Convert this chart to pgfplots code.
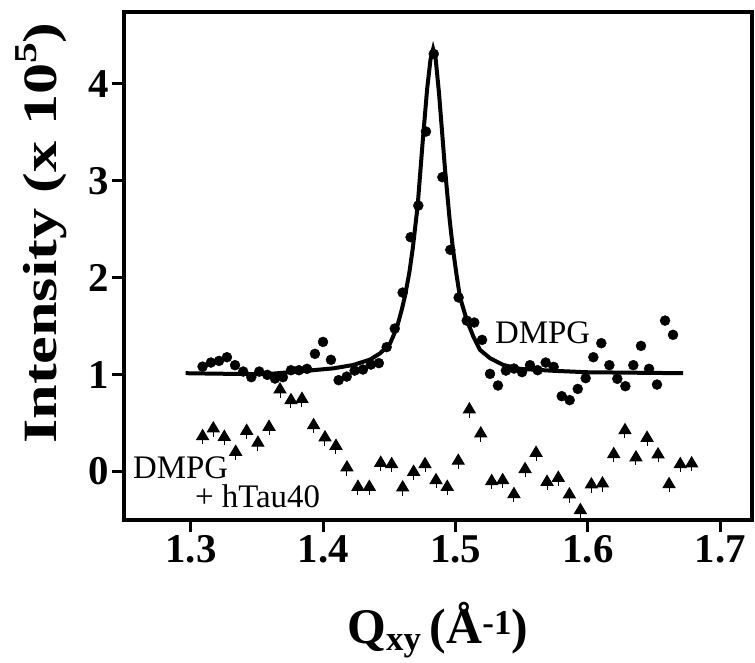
\documentclass[border=0pt]{standalone}
\usepackage{fontspec}
\setmainfont{Liberation Serif}
\usepackage{graphicx}
\usepackage{pgfplots}
\pgfplotsset{compat=1.18}

\pgfdeclareplotmark{tristem}{%
  \pgfpathmoveto{\pgfqpoint{0pt}{1.0\pgfplotmarksize}}%
  \pgfpathlineto{\pgfqpoint{-0.95\pgfplotmarksize}{-0.6\pgfplotmarksize}}%
  \pgfpathlineto{\pgfqpoint{0.95\pgfplotmarksize}{-0.6\pgfplotmarksize}}%
  \pgfpathclose
  \pgfusepathqfillstroke
  \pgfpathmoveto{\pgfqpoint{0pt}{-0.6\pgfplotmarksize}}%
  \pgfpathlineto{\pgfqpoint{0pt}{-1.35\pgfplotmarksize}}%
  \pgfusepathqstroke
}

\pgfplotstableread{
x y
1.3088 1.083
1.3151 1.125
1.3212 1.142
1.3272 1.18
1.3333 1.098
1.3395 1.032
1.3456 0.974
1.3516 1.032
1.3577 0.998
1.3635 0.96
1.3695 0.974
1.3756 1.046
1.3816 1.046
1.3877 1.06
1.3937 1.215
1.3998 1.338
1.4058 1.153
1.4116 0.943
1.4177 0.98
1.4237 1.042
1.4300 1.053
1.4360 1.104
1.4420 1.119
1.4479 1.284
1.4540 1.476
1.4600 1.847
1.4660 2.419
1.4718 2.745
1.4776 3.509
1.4835 4.31
1.4900 3.038
1.4960 2.288
1.5023 1.796
1.5084 1.558
1.5141 1.538
1.5200 1.359
1.5260 1.008
1.5320 0.888
1.5380 1.042
1.5441 1.063
1.5502 1.026
1.5562 1.098
1.5620 1.046
1.5681 1.125
1.5741 1.08
1.5802 0.778
1.5862 0.737
1.5923 0.853
1.5983 0.964
1.6041 1.18
1.6101 1.325
1.6162 1.098
1.6222 0.957
1.6283 0.881
1.6343 1.098
1.6401 1.297
1.6462 1.06
1.6522 0.898
1.6583 1.558
1.6643 1.411
}\dmpg

\pgfplotstableread{
x y
1.3088 0.368
1.3169 0.448
1.3252 0.361
1.3338 0.206
1.3421 0.423
1.3506 0.30
1.3590 0.464
1.3673 0.85
1.3756 0.74
1.3839 0.753
1.3927 0.482
1.4013 0.355
1.4096 0.268
1.4179 0.045
1.4262 -0.155
1.4348 -0.155
1.4434 0.093
1.4517 0.079
1.4600 -0.161
1.4683 0.0
1.4769 0.079
1.4852 -0.086
1.4937 -0.155
1.5020 0.114
1.5104 0.644
1.5190 0.396
1.5273 -0.096
1.5356 -0.086
1.5441 -0.23
1.5525 0.028
1.5608 0.196
1.5691 -0.103
1.5776 -0.062
1.5860 -0.233
1.5943 -0.395
1.6026 -0.13
1.6110 -0.12
1.6195 0.183
1.6280 0.43
1.6363 0.149
1.6447 0.351
1.6530 0.18
1.6613 -0.127
1.6698 0.079
1.6784 0.087
}\tau

\pgfplotstableread{
x y
1.2960 1.015
1.3200 1.010
1.3570 1.005
1.3874 1.040
1.4076 1.065
1.4227 1.100
1.4353 1.155
1.4429 1.220
1.4504 1.320
1.4555 1.480
1.4593 1.670
1.4617 1.810
1.4650 2.050
1.4676 2.300
1.4713 2.740
1.4751 3.400
1.4785 3.950
1.4810 4.250
1.4830 4.360
1.4850 4.250
1.4875 3.900
1.4920 3.120
1.4955 2.600
1.4978 2.320
1.5005 2.050
1.5033 1.800
1.5084 1.565
1.5134 1.393
1.5184 1.256
1.5260 1.170
1.5360 1.100
1.5487 1.060
1.5739 1.040
1.5990 1.025
1.6720 1.015
}\fit

\begin{document}
\begin{tikzpicture}
\begin{axis}[
  scale only axis,
  width=628bp, height=508bp,
  xmin=1.2494, xmax=1.724, ymin=-0.50, ymax=4.743,
  axis line style={line width=3.5bp},
  tick pos=left, tick align=outside,
  major tick length=12bp,
  tick style={line width=3bp, black},
  xtick={1.3,1.4,1.5,1.6,1.7},
  ytick={0,1,2,3,4},
  /pgf/number format/assume math mode=true,
  xticklabel style={/pgf/number format/fixed, /pgf/number format/precision=1, /pgf/number format/fixed zerofill},
  ticklabel style={font=\fontsize{41}{41}\selectfont\bfseries},
  xlabel={\fontsize{50}{50}\selectfont\bfseries Q\textsubscript{xy}\,(Å\textsuperscript{-1})},
  xlabel style={at={(axis description cs:0.5,-0.243)}, anchor=base},
  ylabel={\fontsize{48}{48}\selectfont\bfseries\scalebox{1.3}[1]{Intensity (x 10\raisebox{0.42em}{\fontsize{32}{32}\selectfont 5})}},
  ylabel style={at={(axis description cs:-0.086,0.565)}, anchor=south},
  clip=false,
]
\addplot[black, line width=4bp] table[x=x,y=y] {\fit};
\addplot[only marks, mark=*, mark size=5bp, black] table[x=x,y=y] {\dmpg};
\addplot[only marks, mark=tristem, mark size=6.2bp, black, line width=1bp] table[x=x,y=y] {\tau};
\node[anchor=west, inner sep=0pt, font=\fontsize{33}{33}\selectfont] at (axis cs:1.5298,1.43) {DMPG};
\node[anchor=west, inner sep=0pt, font=\fontsize{33}{33}\selectfont] at (axis cs:1.2562,0.038) {DMPG};
\node[anchor=west, inner sep=0pt, font=\fontsize{33}{33}\selectfont] at (axis cs:1.303,-0.251) {+ hTau40};
\end{axis}
\path (current axis.south west) ++(-124bp,-143bp);
\path (current axis.north east) ++(3bp,12bp);
\end{tikzpicture}
\end{document}
